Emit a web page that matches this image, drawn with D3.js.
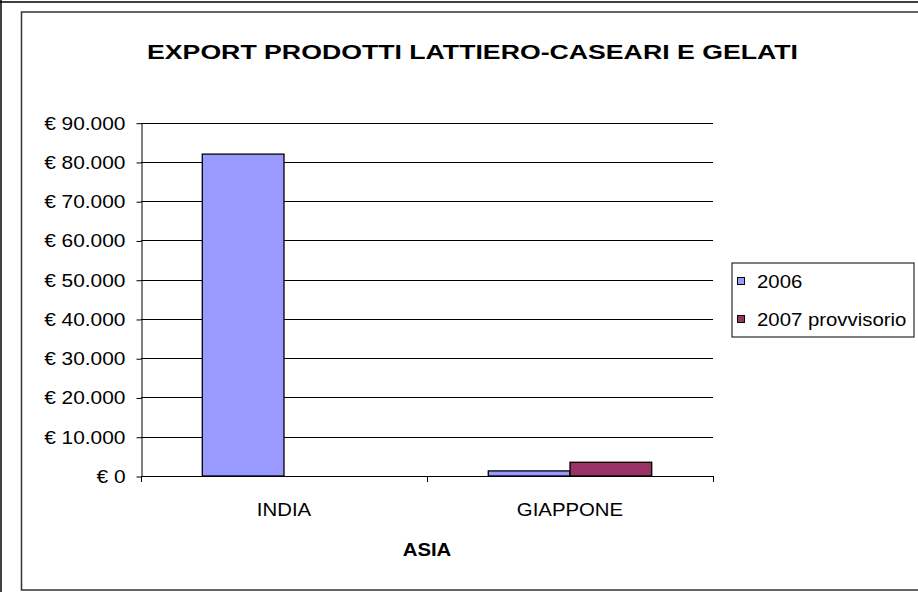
<!DOCTYPE html>
<html>
<head>
<meta charset="utf-8">
<script src="https://cdn.jsdelivr.net/npm/d3@7"></script>
<style>
html,body{margin:0;padding:0;background:#fff;}
svg{display:block;}
text{font-family:"Liberation Sans", Arial, sans-serif;fill:#000;}
</style>
</head>
<body>
<script>
const categories = ["INDIA", "GIAPPONE"];
const seriesNames = ["2006", "2007 provvisorio"];
const values2006 = [82000, 1300];
const values2007 = [0, 3500];
const yTicks = [0, 10000, 20000, 30000, 40000, 50000, 60000, 70000, 80000, 90000];
const titleText = "EXPORT PRODOTTI LATTIERO-CASEARI E GELATI";
const xAxisTitle = "ASIA";
const colors = ["#9999FF", "#993366"];

const W = 918, H = 592;
const svg = d3.select("body").append("svg").attr("width", W).attr("height", H);

// widen glyphs horizontally to match the reference's rendering
function stretch(sel, f){
  sel.each(function(){
    const len = this.getComputedTextLength();
    d3.select(this).attr("textLength", len*f).attr("lengthAdjust","spacingAndGlyphs");
  });
}

// outer frame
svg.append("line").attr("x1",1).attr("y1",0).attr("x2",1).attr("y2",H).attr("stroke","#000").attr("stroke-width",1.5);
svg.append("line").attr("x1",0).attr("y1",2).attr("x2",W).attr("y2",2).attr("stroke","#000").attr("stroke-width",1.5);
// inner chart frame
svg.append("rect").attr("x",21.5).attr("y",12).attr("width",W).attr("height",578)
  .attr("fill","#fff").attr("stroke","#333").attr("stroke-width",1.5);

const plot = {left:141, right:713, top:122.7, bottom:476};

const y = d3.scaleLinear().domain([0, 90000]).range([plot.bottom, plot.top]);
const x = d3.scaleBand().domain(categories).range([plot.left, plot.right]).paddingInner(0).paddingOuter(0);
const xs = d3.scaleBand().domain(seriesNames).range([0, x.bandwidth()]).paddingInner(0).paddingOuter(0.75);

const fmt = v => "€ " + d3.format(",")(v).replace(/,/g, ".");

// gridlines
svg.append("g").selectAll("line").data(yTicks.filter(d=>d>0)).join("line")
  .attr("x1", plot.left).attr("x2", plot.right)
  .attr("y1", d=>Math.round(y(d))+0.5).attr("y2", d=>Math.round(y(d))+0.5)
  .attr("stroke","#000").attr("stroke-width",1);

// y axis
const yAxis = d3.axisLeft(y).tickValues(yTicks).tickFormat(fmt).tickSizeInner(5).tickSizeOuter(0).tickPadding(11);
const gy = svg.append("g").attr("transform", `translate(${plot.left+0.5},0.5)`).call(yAxis);
gy.select(".domain").attr("stroke","#000");
gy.selectAll(".tick line").attr("stroke","#000");
gy.selectAll(".tick text").attr("font-size", 18.5).attr("font-family","Liberation Sans, Arial, sans-serif").attr("fill","#000")
  .call(stretch, 1.13);

// bars
const data = [];
categories.forEach((c,i)=>{
  data.push({cat:c, s:seriesNames[0], v:values2006[i], color:colors[0]});
  data.push({cat:c, s:seriesNames[1], v:values2007[i], color:colors[1]});
});
svg.append("g").selectAll("rect").data(data.filter(d=>d.v>0)).join("rect")
  .attr("x", d=>x(d.cat)+xs(d.s))
  .attr("y", d=>y(d.v))
  .attr("width", xs.bandwidth())
  .attr("height", d=>y(0)-y(d.v))
  .attr("fill", d=>d.color).attr("stroke","#000").attr("stroke-width",1.3);

// x axis
svg.append("line").attr("x1",plot.left).attr("x2",plot.right).attr("y1",plot.bottom+0.5).attr("y2",plot.bottom+0.5).attr("stroke","#000");
const bounds = [plot.left, ...categories.map(c=>x(c)+x.bandwidth())];
svg.append("g").selectAll("line").data(bounds).join("line")
  .attr("x1",d=>d+0.5).attr("x2",d=>d+0.5).attr("y1",plot.bottom).attr("y2",plot.bottom+6).attr("stroke","#000");
svg.append("g").selectAll("text").data(categories).join("text")
  .attr("x", d=>x(d)+x.bandwidth()/2).attr("y", 516)
  .attr("text-anchor","middle").attr("font-size",18.5).text(d=>d).call(stretch, 1.1);

svg.append("text").attr("x",(plot.left+plot.right)/2).attr("y",556)
  .attr("text-anchor","middle").attr("font-size",18.5).attr("font-weight","bold").text(xAxisTitle).call(stretch, 1.1);

// title
svg.append("text").attr("x",472.5).attr("y",58.5).attr("text-anchor","middle")
  .attr("font-size",21).attr("font-weight","bold").text(titleText).call(stretch, 1.27);

// legend
const lg = svg.append("g");
lg.append("rect").attr("x",732).attr("y",263).attr("width",182).attr("height",74).attr("fill","#fff").attr("stroke","#000").attr("stroke-width",1);
const items = lg.selectAll("g.item").data(seriesNames).join("g").attr("class","item")
  .attr("transform",(d,i)=>`translate(0,${i*38})`);
items.append("rect").attr("x",737.5).attr("y",277.5).attr("width",7).attr("height",7)
  .attr("fill",(d,i)=>colors[i]).attr("stroke","#000").attr("stroke-width",1);
items.append("text").attr("x",757).attr("y",288).attr("font-size",18.5).text(d=>d).call(stretch, 1.1);
</script>
</body>
</html>
